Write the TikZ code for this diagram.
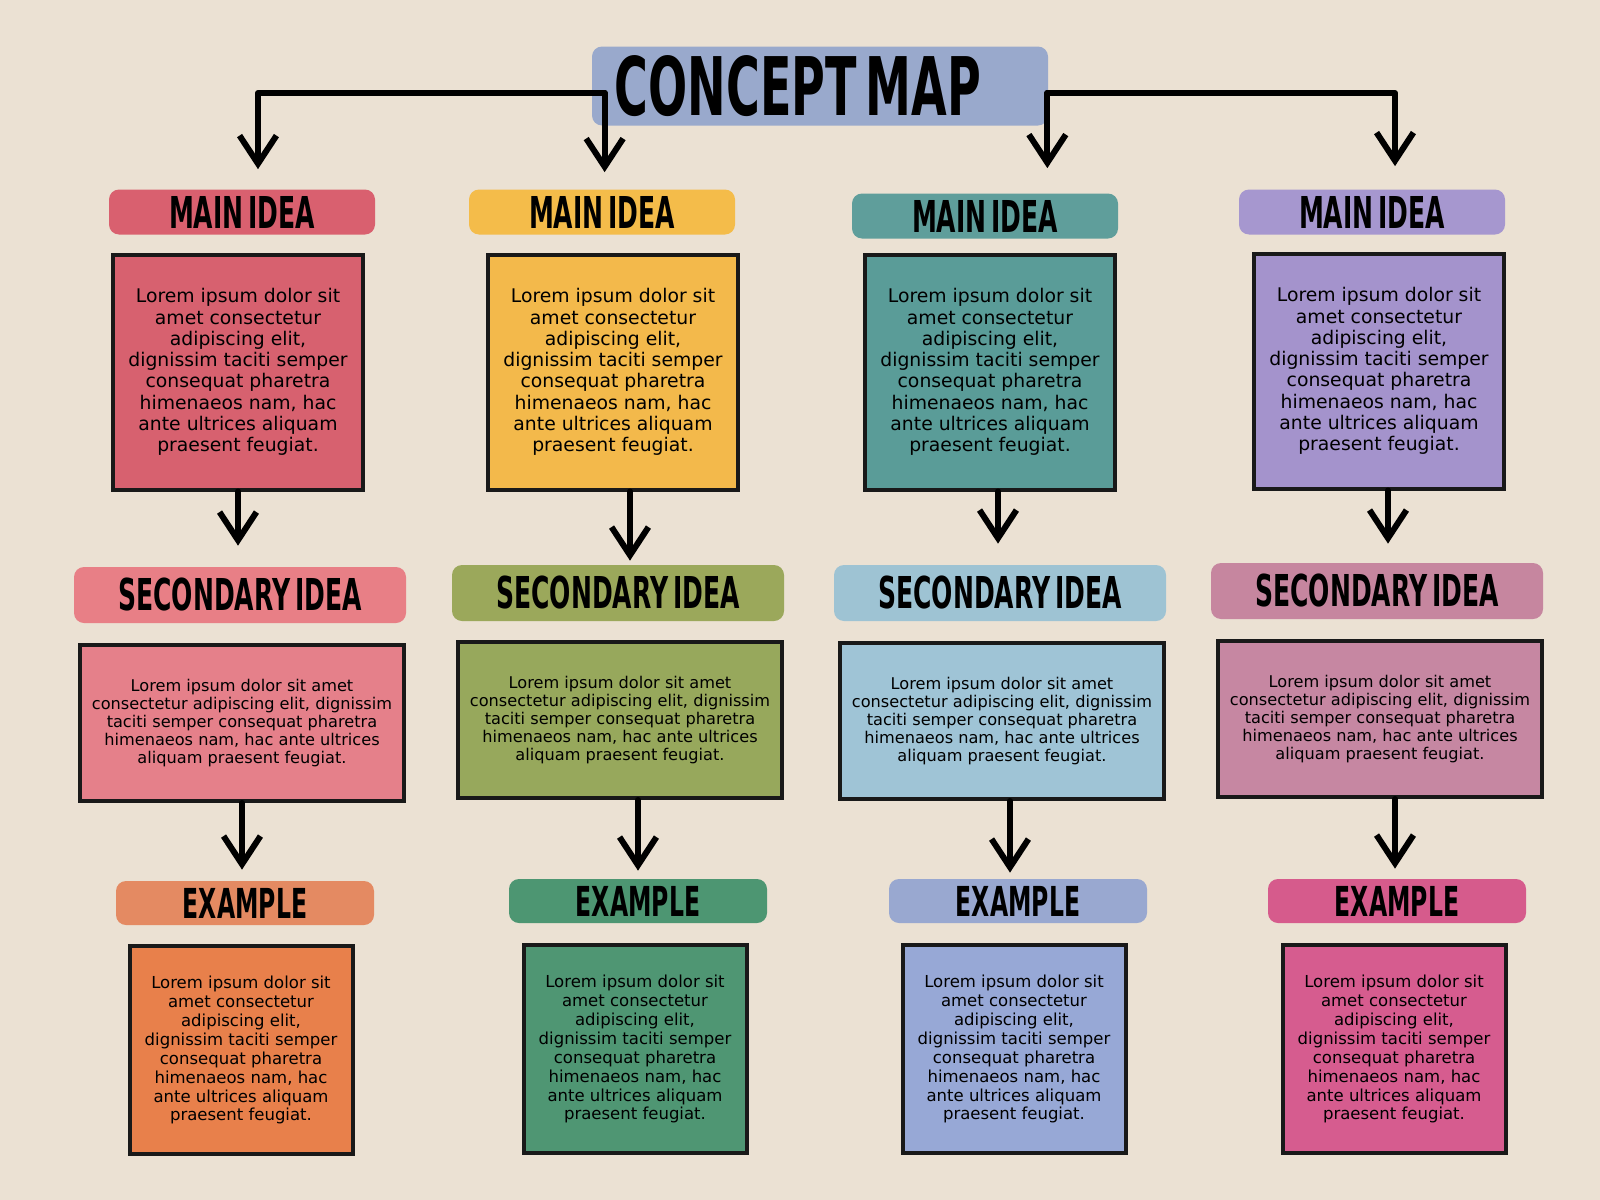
\documentclass[tikz,border=0pt]{standalone}
\usepackage{fontspec}
\setmainfont{DejaVu Sans}
\newfontfamily\headfont[FakeStretch=0.57, WordSpace=0.55]{DejaVu Sans Bold}
\usetikzlibrary{positioning, arrows.meta}

\newlength{\pu}
\setlength{\pu}{0.02cm}

\definecolor{paper}{HTML}{EBE1D3}
\definecolor{titlefill}{HTML}{99A9CC}
% main idea colours
\definecolor{mhA}{HTML}{D9606F}\definecolor{mbA}{HTML}{D7616F}
\definecolor{mhB}{HTML}{F4BC4A}\definecolor{mbB}{HTML}{F3B94B}
\definecolor{mhC}{HTML}{5F9E9B}\definecolor{mbC}{HTML}{5A9C98}
\definecolor{mhD}{HTML}{A697CF}\definecolor{mbD}{HTML}{A493CC}
% secondary idea colours
\definecolor{shA}{HTML}{E87F86}\definecolor{sbA}{HTML}{E5808A}
\definecolor{shB}{HTML}{9BA85B}\definecolor{sbB}{HTML}{97A85C}
\definecolor{shC}{HTML}{9EC3D3}\definecolor{sbC}{HTML}{9FC4D6}
\definecolor{shD}{HTML}{C6869F}\definecolor{sbD}{HTML}{C687A2}
% example colours
\definecolor{ehA}{HTML}{E48A62}\definecolor{ebA}{HTML}{E8804B}
\definecolor{ehB}{HTML}{4D9672}\definecolor{ebB}{HTML}{4F9673}
\definecolor{ehC}{HTML}{99A8D0}\definecolor{ebC}{HTML}{97A8D6}
\definecolor{ehD}{HTML}{D65B8C}\definecolor{ebD}{HTML}{D65C8F}

\newcommand{\narrowtext}{Lorem ipsum dolor sit\\ amet consectetur\\ adipiscing elit,\\
  dignissim taciti semper\\ consequat pharetra\\ himenaeos nam, hac\\
  ante ultrices aliquam\\ praesent feugiat.}
\newcommand{\widetext}{Lorem ipsum dolor sit amet\\ consectetur adipiscing elit, dignissim\\
  taciti semper consequat pharetra\\ himenaeos nam, hac ante ultrices\\
  aliquam praesent feugiat.}

\begin{document}
\begin{tikzpicture}[x=0.02cm, y=-0.02cm,
  headbar/.style={rounded corners=10\pu, inner sep=0pt, text=black},
  mainbar/.style={headbar, minimum width=266\pu, minimum height=45\pu,
    font=\headfont\fontsize{25}{25}\selectfont},
  secbar/.style={headbar, minimum width=332\pu, minimum height=56\pu,
    font=\headfont\fontsize{25}{25}\selectfont},
  exbar/.style={headbar, minimum width=258\pu, minimum height=44\pu,
    font=\headfont\fontsize{23.5}{23.5}\selectfont},
  textbox/.style={draw=black!90, line width=4\pu, inner sep=0pt, align=center},
  mainbox/.style={textbox, minimum width=250\pu, minimum height=235\pu,
    font=\fontsize{10.7}{12.1}\selectfont},
  secbox/.style={textbox, minimum width=324\pu, minimum height=156\pu,
    font=\fontsize{9.2}{10.2}\selectfont},
  exbox/.style={textbox, minimum width=223\pu, minimum height=208\pu,
    font=\fontsize{9.4}{10.8}\selectfont},
  arr/.style={-{Straight Barb[length=16pt, width=21pt]}, line width=6\pu,
    line cap=round, line join=round}]
  \useasboundingbox (0,0) rectangle (1600,1200);
  \fill[paper] (0,0) rectangle (1600,1200);

  \node[headbar, fill=titlefill, minimum width=456\pu, minimum height=79\pu,
    font=\headfont\fontsize{46}{46}\selectfont] (title) at (820,86)
    {CONCEPT MAP\hspace{44\pu}\mbox{}};

  % main ideas
  \node[mainbar, fill=mhA] (mh1) at (242,212)  {MAIN IDEA};
  \node[mainbar, fill=mhB] (mh2) at (602,212)  {MAIN IDEA};
  \node[mainbar, fill=mhC] (mh3) at (985,216)  {MAIN IDEA};
  \node[mainbar, fill=mhD] (mh4) at (1372,212) {MAIN IDEA};
  \node[mainbox, fill=mbA] (mb1) at (238,372)  {\narrowtext};
  \node[mainbox, fill=mbB] (mb2) at (613,372)  {\narrowtext};
  \node[mainbox, fill=mbC] (mb3) at (990,372)  {\narrowtext};
  \node[mainbox, fill=mbD] (mb4) at (1379,371) {\narrowtext};

  % secondary ideas
  \node[secbar, fill=shA] (sh1) at (240,595)  {SECONDARY IDEA};
  \node[secbar, fill=shB] (sh2) at (618,593)  {SECONDARY IDEA};
  \node[secbar, fill=shC] (sh3) at (1000,593) {SECONDARY IDEA};
  \node[secbar, fill=shD] (sh4) at (1377,591) {SECONDARY IDEA};
  \node[secbox, fill=sbA] (sb1) at (242,723)  {\widetext};
  \node[secbox, fill=sbB] (sb2) at (620,720)  {\widetext};
  \node[secbox, fill=sbC] (sb3) at (1002,721) {\widetext};
  \node[secbox, fill=sbD] (sb4) at (1380,719) {\widetext};

  % examples
  \node[exbar, fill=ehA] (eh1) at (245,903)  {EXAMPLE};
  \node[exbar, fill=ehB] (eh2) at (638,901)  {EXAMPLE};
  \node[exbar, fill=ehC] (eh3) at (1018,901) {EXAMPLE};
  \node[exbar, fill=ehD] (eh4) at (1397,901) {EXAMPLE};
  \node[exbox, fill=ebA] (eb1) at (241,1050)  {\narrowtext};
  \node[exbox, fill=ebB] (eb2) at (635,1049)  {\narrowtext};
  \node[exbox, fill=ebC] (eb3) at (1014,1049) {\narrowtext};
  \node[exbox, fill=ebD] (eb4) at (1394,1049) {\narrowtext};

  % branches out of the title
  \coordinate (jl) at ([shift={(13,7)}]title.west);
  \coordinate (jr) at ([shift={(-1,7)}]title.east);
  \draw[arr, shorten >=20\pu] (jl) -| ([xshift=16\pu]mh1.north);
  \draw[arr, shorten >=17\pu] (jl) -- (jl |- mh2.north);
  \draw[arr, shorten >=25\pu] (jr) -- (jr |- mh3.north);
  \draw[arr, shorten >=23\pu] (jr) -| ([xshift=23\pu]mh4.north);

  % down each column
  \path[arr]
    (mb1.south) edge [shorten >=21\pu] (mb1.south |- sh1.north)
    ([xshift=17\pu]mb2.south) edge [shorten >=4\pu] ([xshift=17\pu]mb2.south |- sh2.north)
    ([xshift=8\pu]mb3.south) edge [shorten >=21\pu] ([xshift=8\pu]mb3.south |- sh3.north)
    ([xshift=9\pu]mb4.south) edge [shorten >=19\pu] ([xshift=9\pu]mb4.south |- sh4.north)
    (sb1.south) edge [shorten >=11\pu] (sb1.south |- eh1.north)
    ([xshift=18\pu]sb2.south) edge [shorten >=8\pu] ([xshift=18\pu]sb2.south |- eh2.north)
    ([xshift=8\pu]sb3.south) edge [shorten >=6\pu] ([xshift=8\pu]sb3.south |- eh3.north)
    ([xshift=15\pu]sb4.south) edge [shorten >=10\pu] ([xshift=15\pu]sb4.south |- eh4.north);
\end{tikzpicture}
\end{document}
